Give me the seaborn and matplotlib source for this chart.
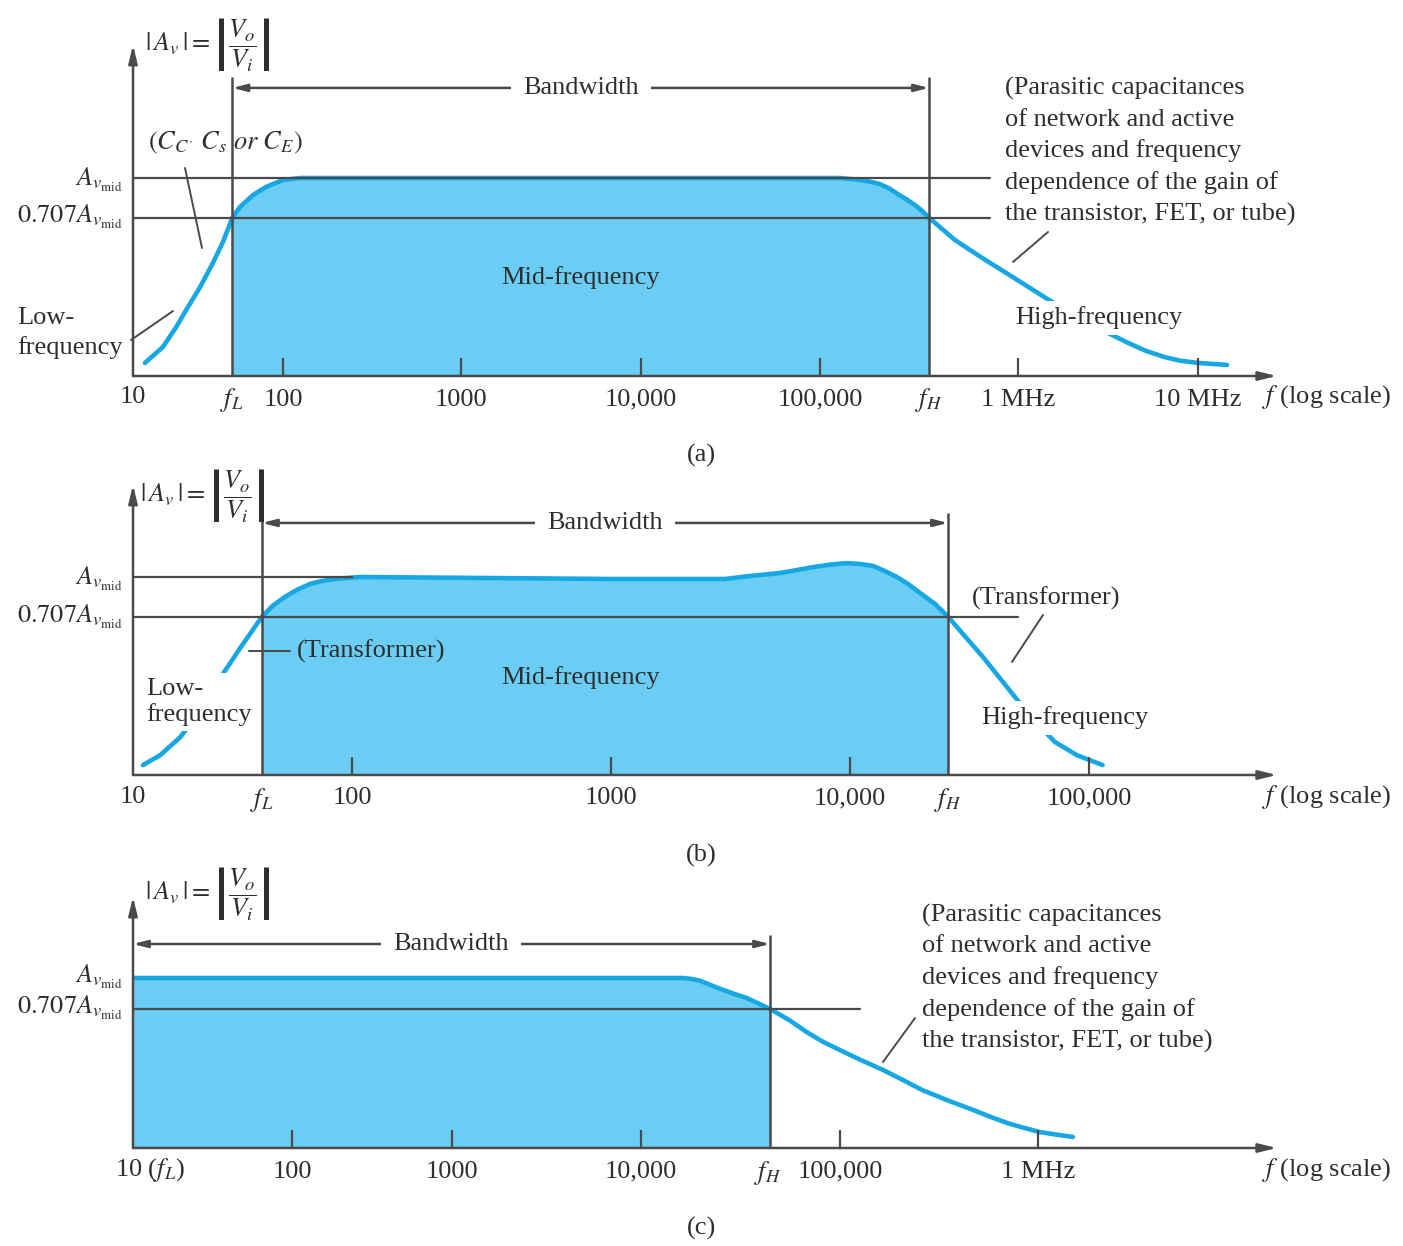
import numpy as np
import matplotlib
matplotlib.use('Agg')
import matplotlib.pyplot as plt
import seaborn as sns
from matplotlib.lines import Line2D
from matplotlib.ticker import NullLocator

# ---------------------------------------------------------------
# values (gain is relative to A_v,mid = 1)
# ---------------------------------------------------------------
# (a) RC-coupled
freq_a = [12, 15.8, 19.4, 22.6, 28, 34.1, 39.8, 46, 51.7, 63.1, 77.1, 100, 125,
          1.26e5, 1.6e5, 1.78e5, 2.0e5, 2.26e5, 2.5e5, 2.76e5, 3.0e5, 3.27e5, 3.55e5,
          4.8e5, 6.5e5, 9.4e5, 1.45e6, 2.4e6, 4.1e6, 5.1e6, 6.5e6, 7.9e6, 1.0e7, 1.45e7]
gain_a = [0.066, 0.146, 0.247, 0.333, 0.449, 0.571, 0.677, 0.80, 0.854, 0.914, 0.955, 0.99, 1.0,
          1.0, 0.99, 0.982, 0.97, 0.945, 0.915, 0.89, 0.865, 0.835, 0.80,
          0.687, 0.60, 0.50, 0.39, 0.27, 0.167, 0.128, 0.096, 0.078, 0.066, 0.056]
fl_a, fh_a = 46, 3.55e5

# (b) transformer-coupled
freq_b = [11.1, 13.3, 16.4, 20.2, 23.7, 27.2, 30.8, 34.6, 38.8, 43.5, 49.4, 56, 64.3, 73,
          83.6, 107, 1000, 3000, 3800, 5090, 6000, 7000, 8300, 9700, 11000, 12500,
          14000, 15700, 17500, 19600, 22700, 25700, 30300, 36000, 49000, 59400,
          72000, 89000, 114000]
gain_b = [0.05, 0.10, 0.19, 0.32, 0.455, 0.55, 0.64, 0.72, 0.80, 0.855, 0.90, 0.935, 0.965, 0.98,
          0.99, 1.0, 0.99, 0.99, 1.005, 1.02, 1.035, 1.05, 1.063, 1.07, 1.066, 1.056,
          1.03, 1.0, 0.965, 0.92, 0.864, 0.80, 0.70, 0.596, 0.394, 0.27,
          0.167, 0.10, 0.05]
fl_b, fh_b = 38.8, 25700

# (c) direct-coupled
freq_c = [10, 1.63e4, 1.8e4, 1.98e4, 2.22e4, 2.6e4, 2.95e4, 3.4e4, 4.45e4, 5.6e4, 6.8e4,
          8.2e4, 1e5, 1.26e5, 1.65e5, 2.08e5, 2.6e5, 3.5e5, 4.7e5, 5.7e5, 7.0e5, 8.4e5,
          1.02e6, 1.25e6, 1.5e6]
gain_c = [1.0, 1.0, 0.994, 0.984, 0.96, 0.929, 0.906, 0.882, 0.818, 0.75, 0.682,
          0.625, 0.576, 0.52, 0.459, 0.40, 0.341, 0.28, 0.224, 0.185, 0.147, 0.12,
          0.094, 0.078, 0.065]
fl_c, fh_c = 10, 4.45e4

ticks_a = [100, 1e3, 1e4, 1e5, 1e6, 1e7]
labels_a = ['100', '1000', '10,000', '100,000', '1 MHz', '10 MHz']
ticks_b = [100, 1e3, 1e4, 1e5]
labels_b = ['100', '1000', '10,000', '100,000']
ticks_c = [100, 1e3, 1e4, 1e5, 1e6]
labels_c = ['100', '1000', '10,000', '100,000', '1 MHz']

A_MID = 1.0
A_707_ab = 0.80   # drawn level of 0.707 A_v,mid in (a), (b)
A_707_c = 0.818   # drawn level in (c)

# ---------------------------------------------------------------
# style
# ---------------------------------------------------------------
sns.set_theme(style='white')
plt.rcParams['font.family'] = ['Liberation Serif', 'DejaVu Serif']
plt.rcParams['mathtext.fontset'] = 'stix'

W, H = 1403, 1246
FS = 19
TXT = '#2e2e2e'
LNC = '#4a4a4a'
CURVE = '#17a8e3'
FILL = '#6bcdf4'

YLBL = r'$|\,A_v\,| = \left|\dfrac{V_o}{V_i}\right|$'
AMID = r'$A_{v_{\mathrm{mid}}}$'
A707 = r'$0.707A_{v_{\mathrm{mid}}}$'
PARASITIC = ['(Parasitic capacitances', 'of network and active',
             'devices and frequency', 'dependence of the gain of',
             'the transistor, FET, or tube)']
WHITE = dict(fc='white', ec='none', pad=4)
BWBOX = dict(fc='white', ec='none', pad=9)

fig = plt.figure(figsize=(W / 100, H / 100), dpi=100)


def put(x, y, s, ha='left', va='center', **kw):
    fig.text(x / W, 1 - y / H, s, ha=ha, va=va, fontsize=kw.pop('fontsize', FS),
             color=TXT, **kw)


def leader(p0, p1):
    fig.add_artist(Line2D([p0[0] / W, p1[0] / W], [1 - p0[1] / H, 1 - p1[1] / H],
                          transform=fig.transFigure, color=LNC, lw=1.4))


def panel(box, dec_px, unit, freq, gain, fl, fh, ticks, labels,
          low, bw_y, vtop, hline_end, mid_end=None):
    l, t, r, b = box
    ax = fig.add_axes([l / W, 1 - b / H, (r - l) / W, (b - t) / H])
    logs = np.arange(1, len(dec_px) + 1)

    def fwd(f):
        return np.interp(np.log10(np.maximum(f, 1e-6)), logs, dec_px)

    def inv(p):
        return 10 ** np.interp(p, dec_px, logs)

    ax.set_xscale('function', functions=(fwd, inv))
    x = np.array(freq, dtype=float)
    y = np.array(gain, dtype=float)
    ax.fill_between(x, 0, y, where=(x >= fl) & (x <= fh), color=FILL, lw=0, zorder=1)
    sns.lineplot(x=x, y=y, ax=ax, color=CURVE, linewidth=3.3, sort=False,
                 estimator=None, zorder=2.4)
    ax.set_xlabel('')
    ax.set_ylabel('')

    # reference levels
    span = r - l
    if mid_end is not None:
        ax.axhline(A_MID, xmin=0, xmax=(mid_end - l) / span, color=LNC, lw=1.6, zorder=3)
    ax.axhline(low, xmin=0, xmax=(hline_end - l) / span, color=LNC, lw=1.6, zorder=3)
    vx = [v for v in (fl, fh) if v > 10]
    ax.vlines(vx, 0, vtop, color=LNC, lw=1.8, zorder=3)
    ax.annotate('', xy=(fl, bw_y), xytext=(fh, bw_y),
                arrowprops=dict(arrowstyle='<|-|>,head_length=0.7,head_width=0.18',
                                color=LNC, lw=1.8, shrinkA=0, shrinkB=0))

    ax.set_xlim(10, inv(r))
    ax.set_ylim(0, (b - t) / unit)
    ax.set_xticks(ticks)
    ax.set_xticklabels(labels)
    ax.xaxis.set_minor_locator(NullLocator())
    ax.set_yticks([])
    ax.set_axisbelow(False)
    ax.tick_params(axis='x', bottom=True, direction='in', length=13, width=1.6,
                   color=LNC, pad=9, labelsize=FS, labelcolor=TXT)
    for s in ax.spines.values():
        s.set_visible(False)
    for xy in [(1.006, 0), (0, 1.0)]:
        ax.annotate('', xy=xy, xytext=(0, 0), xycoords='axes fraction',
                    arrowprops=dict(arrowstyle='-|>,head_length=0.9,head_width=0.22',
                                    color=LNC, lw=1.8, shrinkA=0, shrinkB=0))
    return ax


# ---------------- (a) ----------------
panel((133, 45, 1270, 376), [133, 283, 461, 641, 820, 1018, 1198, 1378], 198,
      freq_a, gain_a, fl_a, fh_a, ticks_a, labels_a,
      A_707_ab, 1.455, 1.51, 990, mid_end=990)
put(145, 44, YLBL)
put(123, 180, AMID, ha='right')
put(123, 217, A707, ha='right')
put(148, 143, r'$(C_{C^{\cdot}}\ C_s\ or\ C_E)$')
leader((185, 168), (202, 248))
put(17, 318, 'Low-')
put(17, 348, 'frequency')
leader((131, 340), (173, 311))
put(581, 278, 'Mid-frequency', ha='center')
put(581, 88, 'Bandwidth', ha='center', bbox=BWBOX)
for i, s in enumerate(PARASITIC):
    put(1005, 88 + 31.5 * i, s)
leader((1048, 232), (1013, 262))
put(1015, 318, 'High-frequency', bbox=WHITE)
put(133, 397, '10', ha='center')
put(232, 400, '$f_L$', ha='center')
put(929, 400, '$f_H$', ha='center')
put(1262, 397, '$f$ (log scale)')
put(701, 455, '(a)', ha='center')

# ---------------- (b) ----------------
panel((133, 485, 1270, 775), [133, 352, 611, 850, 1089, 1328], 198,
      freq_b, gain_b, fl_b, fh_b, ticks_b, labels_b,
      A_707_ab, 1.273, 1.323, 1018, mid_end=352)
put(140, 495, YLBL)
put(123, 579, AMID, ha='right')
put(123, 617, A707, ha='right')
put(605, 523, 'Bandwidth', ha='center', bbox=BWBOX)
leader((249, 651), (290, 651))
put(297, 651, '(Transformer)')
put(146, 702, 'Low-\nfrequency', bbox=WHITE, linespacing=1.15)
put(581, 678, 'Mid-frequency', ha='center')
put(972, 598, '(Transformer)')
leader((1043, 615), (1012, 662))
put(981, 718, 'High-frequency', bbox=WHITE)
put(133, 797, '10', ha='center')
put(262, 800, '$f_L$', ha='center')
put(948, 800, '$f_H$', ha='center')
put(1262, 797, '$f$ (log scale)')
put(701, 855, '(b)', ha='center')

# ---------------- (c) ----------------
panel((133, 897, 1270, 1148), [133, 292, 452, 641, 840, 1038, 1236, 1434], 170,
      freq_c, gain_c, fl_c, fh_c, ticks_c, labels_c,
      A_707_c, 1.2, 1.253, 860)
put(145, 893, YLBL)
put(123, 977, AMID, ha='right')
put(123, 1008, A707, ha='right')
put(451, 944, 'Bandwidth', ha='center', bbox=BWBOX)
for i, s in enumerate(PARASITIC):
    put(922, 915 + 31.5 * i, s)
leader((915, 1018), (883, 1062))
put(115, 1170, '10 ($f_L$)')
put(768, 1173, '$f_H$', ha='center')
put(1262, 1170, '$f$ (log scale)')
put(701, 1228, '(c)', ha='center')

fig.savefig('out.png', dpi=100)
